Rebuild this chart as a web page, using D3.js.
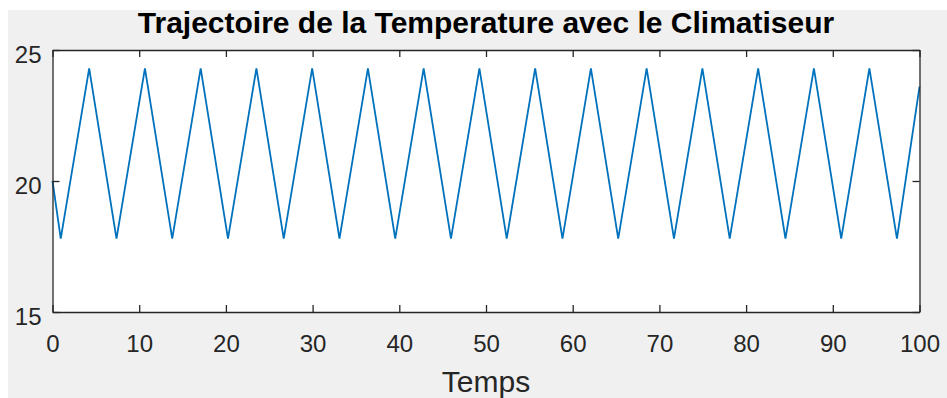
<!DOCTYPE html>
<html>
<head>
<meta charset="utf-8">
<script src="https://cdn.jsdelivr.net/npm/d3@7"></script>
<style>
  body { margin: 0; background: #ffffff; }
  text { font-family: "Liberation Sans", Arial, sans-serif; }
</style>
</head>
<body>
<div id="chart"></div>
<script>
// vertices of the temperature trajectory (time, temperature)
var temps = [0, 0.95, 4.23, 7.38, 10.66, 13.81, 17.09, 20.24, 23.52, 26.67, 29.95,
    33.10, 36.38, 39.53, 42.81, 45.96, 49.24, 52.39, 55.67, 58.82, 62.10,
    65.25, 68.53, 71.68, 74.96, 78.11, 81.39, 84.54, 87.82, 90.97, 94.22, 97.40, 100];
var temperature = [20, 17.8, 24.3, 17.8, 24.3, 17.8, 24.3, 17.8, 24.3, 17.8, 24.3,
    17.8, 24.3, 17.8, 24.3, 17.8, 24.3, 17.8, 24.3, 17.8, 24.3,
    17.8, 24.3, 17.8, 24.3, 17.8, 24.3, 17.8, 24.3, 17.8, 24.3, 17.8, 23.6];
var xTicks = [0, 10, 20, 30, 40, 50, 60, 70, 80, 90, 100];
var yTicks = [15, 20, 25];
var titre = "Trajectoire de la Temperature avec le Climatiseur";
var xLabel = "Temps";

var W = 947, H = 398;
var margin = {top: 50, right: 27.5, bottom: 86, left: 52.5};
var width = W - margin.left - margin.right;
var height = H - margin.top - margin.bottom;

var root = d3.select("#chart").append("svg")
    .attr("width", W)
    .attr("height", H);

// grey figure background
root.append("rect")
    .attr("x", 8).attr("y", 10)
    .attr("width", W - 8).attr("height", H - 10)
    .attr("fill", "#f0f0f0");

var svg = root.append("g")
    .attr("transform", "translate(" + margin.left + "," + margin.top + ")");

svg.append("rect")
    .attr("width", width).attr("height", height)
    .attr("fill", "#ffffff");

var x = d3.scaleLinear().domain([0, 100]).range([0, width]);
var y = d3.scaleLinear().domain([15, 25]).range([height, 0]);

var data = temps.map(function(t, i) { return {t: t, v: temperature[i]}; });

var line = d3.line()
    .x(function(d) { return x(d.t); })
    .y(function(d) { return y(d.v); });

svg.append("path")
    .datum(data)
    .attr("fill", "none")
    .attr("stroke", "#0072bd")
    .attr("stroke-width", 1.8)
    .attr("d", line);

// axes with inward ticks on all four sides
var axBottom = svg.append("g")
    .attr("transform", "translate(0," + height + ")")
    .call(d3.axisBottom(x).tickValues(xTicks).tickSize(-7).tickSizeOuter(0).tickPadding(23));
var axTop = svg.append("g")
    .call(d3.axisTop(x).tickValues(xTicks).tickSize(-7).tickSizeOuter(0).tickFormat(""));
var axLeft = svg.append("g")
    .call(d3.axisLeft(y).tickValues(yTicks).tickSize(-7).tickSizeOuter(0).tickPadding(11));
var axRight = svg.append("g")
    .attr("transform", "translate(" + width + ",0)")
    .call(d3.axisRight(y).tickValues(yTicks).tickSize(-7).tickSizeOuter(0).tickFormat(""));

[axBottom, axTop, axLeft, axRight].forEach(function(g) {
    g.select(".domain").attr("stroke", "#262626").attr("stroke-width", 1.3);
    g.selectAll(".tick line").attr("stroke", "#262626").attr("stroke-width", 1.3);
    g.selectAll(".tick text")
        .attr("fill", "#262626")
        .style("font-size", "24px")
        .style("font-family", "Liberation Sans, Arial, sans-serif");
});
axLeft.selectAll(".tick text").attr("dy", "0.53em");

// title and x label
root.append("text")
    .attr("x", margin.left + width / 2)
    .attr("y", 33)
    .attr("text-anchor", "middle")
    .attr("font-weight", "bold")
    .attr("font-size", "30px")
    .attr("fill", "#000000")
    .text(titre);

root.append("text")
    .attr("x", margin.left + width / 2)
    .attr("y", 392)
    .attr("text-anchor", "middle")
    .attr("font-size", "30px")
    .attr("fill", "#262626")
    .text(xLabel);
</script>
</body>
</html>
